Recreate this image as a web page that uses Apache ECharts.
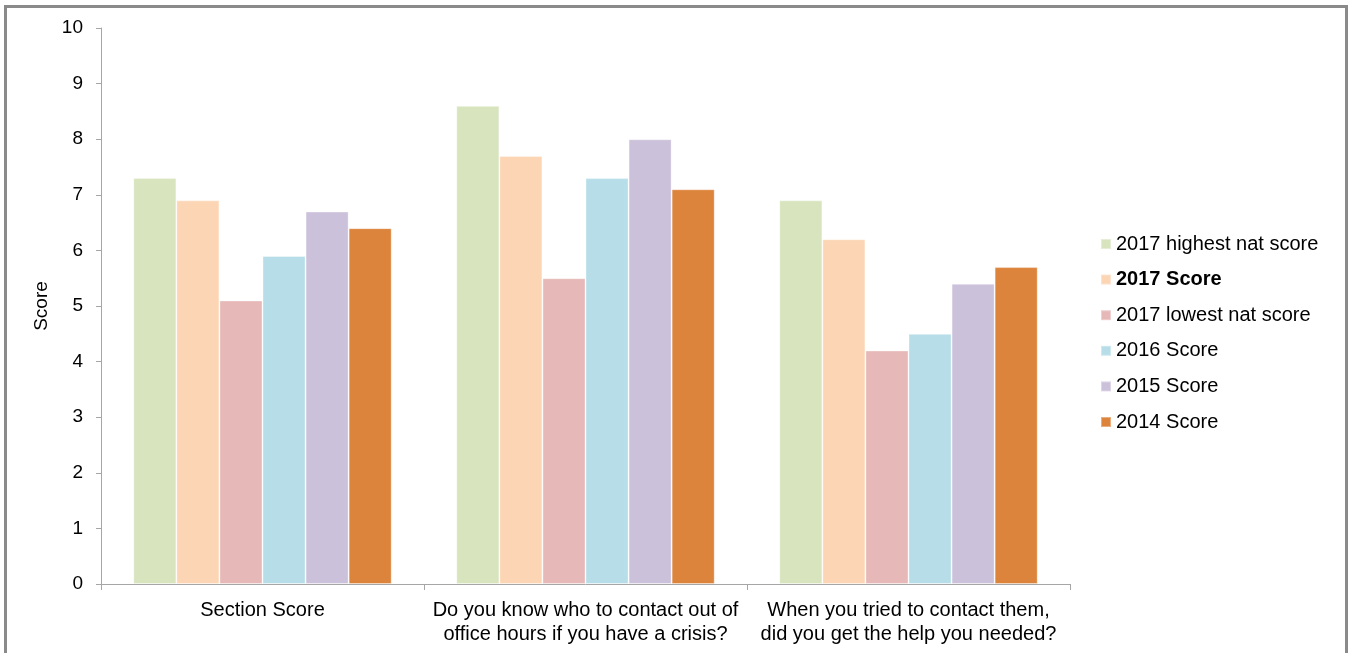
<!DOCTYPE html>
<html>
<head>
<meta charset="utf-8">
<script src="https://cdn.jsdelivr.net/npm/echarts@6/dist/echarts.min.js"></script>
<style>
  html, body { margin: 0; padding: 0; background: #fff; overflow: hidden; }
  #frame { position: absolute; left: 4px; top: 5px; width: 1344px; height: 700px; border: 3px solid #8a8a8a; box-sizing: border-box; }
  #chart { position: absolute; left: 0; top: 0; width: 1354px; height: 653px; }
</style>
</head>
<body>
<div id="frame"></div>
<div id="chart"></div>
<script>
// Survey questions (x categories)
const categories = [
  'Section Score',
  'Do you know who to contact out of\noffice hours if you have a crisis?',
  'When you tried to contact them,\ndid you get the help you needed?'
];

// Series names, in legend order
const seriesNames = [
  '2017 highest nat score',
  '2017 Score',
  '2017 lowest nat score',
  '2016 Score',
  '2015 Score',
  '2014 Score'
];

// Scores per series, one value per category
const highest2017 = [7.3, 8.6, 6.9];
const score2017   = [6.9, 7.7, 6.2];
const lowest2017  = [5.1, 5.5, 4.2];
const score2016   = [5.9, 7.3, 4.5];
const score2015   = [6.7, 8.0, 5.4];
const score2014   = [6.4, 7.1, 5.7];

const seriesValues = [highest2017, score2017, lowest2017, score2016, score2015, score2014];
const seriesColors = ['#d7e4bd', '#fcd5b5', '#e6b9b8', '#b7dee8', '#ccc1da', '#dd843c'];

const FONT = '"Liberation Sans", Arial, sans-serif';

const chart = echarts.init(document.getElementById('chart'), null, { renderer: 'canvas' });

chart.setOption({
  animation: false,
  backgroundColor: 'transparent',
  textStyle: { fontFamily: FONT },
  grid: { left: 101, top: 28, right: 284, bottom: 69, containLabel: false },
  legend: {
    orient: 'vertical',
    left: 1095,
    top: 229,
    itemWidth: 10,
    itemHeight: 10,
    itemGap: 15.6,
    icon: 'rect',
    data: seriesNames,
    formatter: function (name) {
      return name === '2017 Score' ? '{b|' + name + '}' : name;
    },
    textStyle: {
      fontFamily: FONT,
      fontSize: 20,
      color: '#000',
      rich: {
        b: { fontFamily: FONT, fontSize: 20, fontWeight: 'bold', color: '#000' }
      }
    }
  },
  xAxis: {
    type: 'category',
    data: categories,
    axisLine: { show: true, lineStyle: { color: '#a6a6a6', width: 1 } },
    axisTick: { show: true, alignWithLabel: false, length: 6, lineStyle: { color: '#a6a6a6' } },
    axisLabel: {
      color: '#000',
      fontFamily: FONT,
      fontSize: 20,
      lineHeight: 24,
      margin: 14,
      interval: 0
    },
    splitLine: { show: false }
  },
  yAxis: {
    type: 'value',
    min: 0,
    max: 10,
    interval: 1,
    name: 'Score',
    nameLocation: 'middle',
    nameRotate: 90,
    nameGap: 43,
    nameTextStyle: { color: '#000', fontFamily: FONT, fontSize: 19 },
    axisLine: { show: true, lineStyle: { color: '#a6a6a6', width: 1 } },
    axisTick: { show: true, inside: false, length: 5, lineStyle: { color: '#a6a6a6' } },
    axisLabel: { color: '#000', fontFamily: FONT, fontSize: 19, margin: 18 },
    splitLine: { show: false }
  },
  series: seriesNames.map(function (name, i) {
    return {
      name: name,
      type: 'bar',
      data: seriesValues[i],
      barGap: '0%',
      barCategoryGap: '20%',
      itemStyle: {
        color: seriesColors[i],
        borderColor: 'rgba(255,255,255,0.35)',
        borderWidth: 1
      }
    };
  })
});
</script>
</body>
</html>
